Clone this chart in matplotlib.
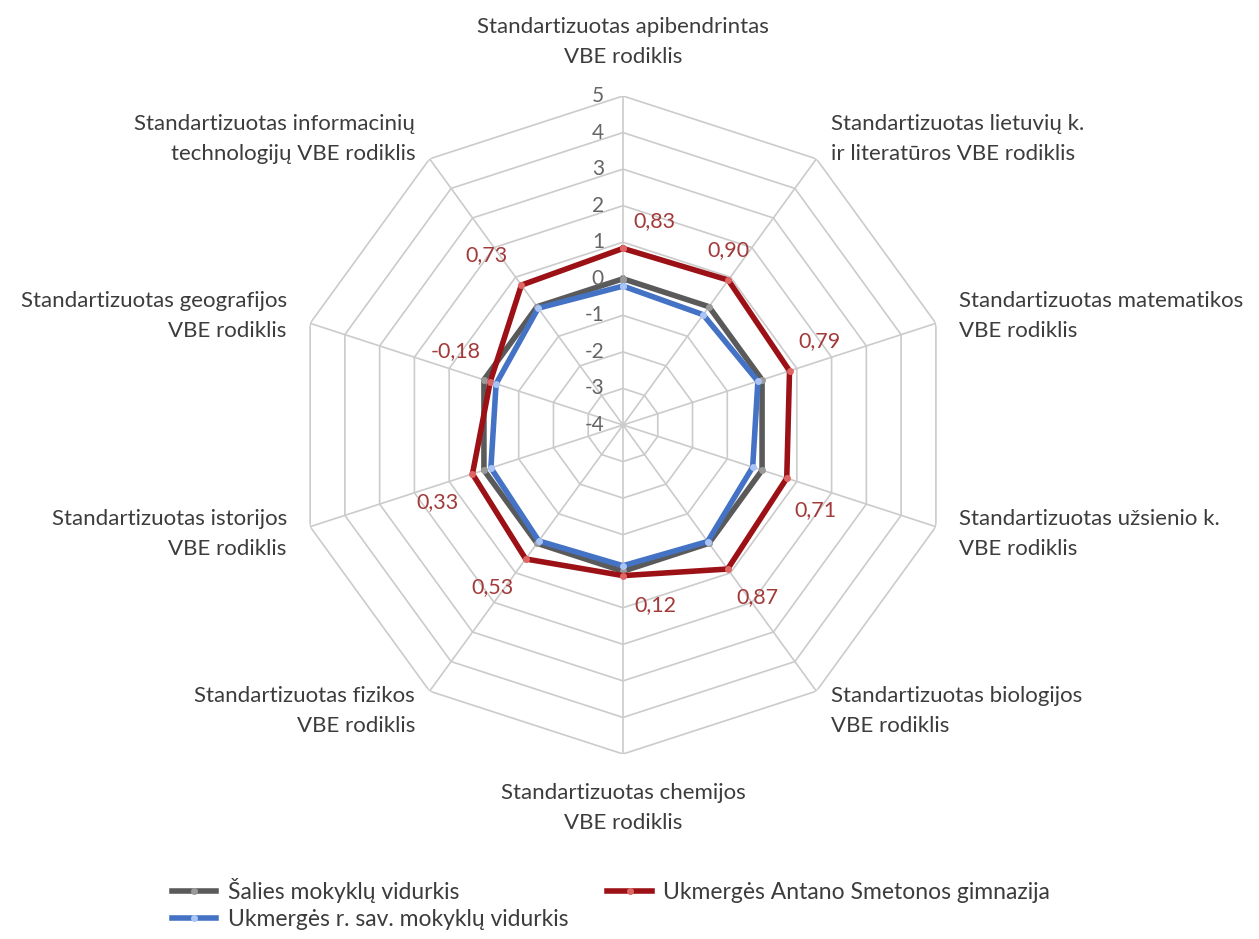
import numpy as np
import matplotlib
matplotlib.use("Agg")
import matplotlib.pyplot as plt
import matplotlib.transforms as mtransforms

plt.rcParams['font.family'] = ['Lato', 'DejaVu Sans']

categories = [
    "Standartizuotas apibendrintas\nVBE rodiklis",
    "Standartizuotas lietuvių k.\nir literatūros VBE rodiklis",
    "Standartizuotas matematikos\nVBE rodiklis",
    "Standartizuotas užsienio k.\nVBE rodiklis",
    "Standartizuotas biologijos\nVBE rodiklis",
    "Standartizuotas chemijos\nVBE rodiklis",
    "Standartizuotas fizikos\nVBE rodiklis",
    "Standartizuotas istorijos\nVBE rodiklis",
    "Standartizuotas geografijos\nVBE rodiklis",
    "Standartizuotas informacinių\ntechnologijų VBE rodiklis",
]
salies = [0.0, 0.0, 0.0, 0.0, 0.0, 0.0, 0.0, 0.0, 0.0, 0.0]
gimnazija = [0.83, 0.90, 0.79, 0.71, 0.87, 0.12, 0.53, 0.33, -0.18, 0.73]
savivaldybe = [-0.20, -0.27, -0.12, -0.27, -0.06, -0.15, -0.08, -0.20, -0.35, -0.05]
series_names = ["Šalies mokyklų vidurkis",
                "Ukmergės Antano Smetonos gimnazija",
                "Ukmergės r. sav. mokyklų vidurkis"]
tick_values = [5, 4, 3, 2, 1, 0, -1, -2, -3, -4]
rmin, rmax = -4, 5

# style
label_offsets = [(31, -27), (0, -30), (30, -30), (29, 32), (30, 28),
                 (32, 29), (-33, 28), (-35, 28), (-35, -31), (-35, -30)]
c_gray, c_red, c_blue = "#5a5a5a", "#9c1116", "#4472c4"
grid_c = "#cbcbcb"
txt_c = "#3c3c3c"

W, H = 1259, 939
fig = plt.figure(figsize=(W / 100, H / 100), dpi=100)
cx, cy, R = 623, 425, 329
ax = fig.add_axes([(cx - R) / W, (H - cy - R) / H, 2 * R / W, 2 * R / H],
                  projection='polar')
ax.set_theta_zero_location('N')
ax.set_theta_direction(-1)
ax.set_ylim(rmin, rmax)
ax.grid(False)
ax.spines['polar'].set_visible(False)
ax.set_xticks([])
ax.set_yticks([])
ax.patch.set_alpha(0)

n = len(categories)
theta = np.linspace(0, 2 * np.pi, n, endpoint=False)
theta_c = np.append(theta, theta[0])

# polygon grid
for v in range(rmin + 1, rmax + 1):
    ax.plot(theta_c, [v] * (n + 1), color=grid_c, lw=1.2, zorder=1)
for t in theta:
    ax.plot([t, t], [rmin, rmax], color=grid_c, lw=1.2, zorder=1)

def close(vals):
    return list(vals) + [vals[0]]

lg, = ax.plot(theta_c, close(salies), color=c_gray, lw=4, zorder=3,
              marker='o', ms=4, mfc="#9a9a9a", mec="#9a9a9a")
lr, = ax.plot(theta_c, close(gimnazija), color=c_red, lw=4, zorder=4,
              marker='o', ms=4, mfc="#e06666", mec="#e06666")
lb, = ax.plot(theta_c, close(savivaldybe), color=c_blue, lw=4, zorder=5,
              marker='o', ms=4, mfc="#a9c4f5", mec="#a9c4f5")

# radial tick labels
toff = mtransforms.offset_copy(ax.transData, fig=fig, x=-19, y=0, units='dots')
for v in tick_values:
    ax.text(0, v, str(v), transform=toff, ha='right',
            va='center', fontsize=15, color="#666666", zorder=6)

# data labels
for t, v, (dx, dy) in zip(theta, gimnazija, label_offsets):
    ax.annotate(f"{v:.2f}".replace('.', ','), xy=(t, v), xytext=(dx, -dy),
                textcoords='offset pixels', ha='center', va='center',
                fontsize=15.5, color="#a33a3a", zorder=6)

# category labels
rl_side, rl_top = 5.67, 5.8
for t, lab in zip(theta, categories):
    s = np.sin(t)
    c = np.cos(t)
    if abs(s) < 1e-6:
        ha = 'center'
        va = 'bottom' if c > 0 else 'top'
        r = rl_top
    else:
        ha = 'left' if s > 0 else 'right'
        va = 'center'
        r = rl_side
    ax.text(t, r, lab, ha=ha, va=va, multialignment=ha,
            fontsize=16, color=txt_c, linespacing=1.6)

fig.legend([lg, lb, lr], [series_names[0], series_names[2], series_names[1]],
           ncol=2, loc='upper left', bbox_to_anchor=(151 / W, 1 - 857 / H),
           frameon=False, fontsize=16.5, handlelength=1.95, handletextpad=0.5,
           columnspacing=1.7, labelspacing=0.3, labelcolor=txt_c)

fig.savefig("out.png", dpi=100)
